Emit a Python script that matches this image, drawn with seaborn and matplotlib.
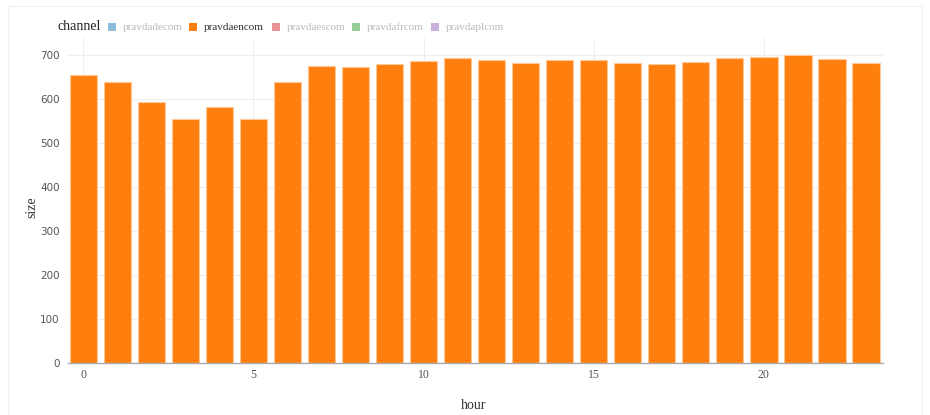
import matplotlib
matplotlib.use("Agg")
import matplotlib.pyplot as plt
import matplotlib.patches as mpatches
import seaborn as sns
import pandas as pd

hours = list(range(24))
sizes = [654, 639, 592, 555, 581, 555, 637, 675, 673, 678, 685, 692,
         689, 682, 688, 688, 682, 678, 683, 693, 695, 699, 691, 682]
channels = ["pravdadecom", "pravdaencom", "pravdaescom", "pravdafrcom", "pravdaplcom"]
channel_colors = ["#1f77b4", "#ff7f0e", "#d62728", "#2ca02c", "#9467bd"]
active_channel = "pravdaencom"

df = pd.DataFrame({"hour": hours, "size": sizes, "channel": active_channel})

sns.set_theme(style="white")
plt.rcParams["font.family"] = ["Liberation Serif", "DejaVu Serif"]

fig = plt.figure(figsize=(9.3, 4.15), dpi=100)
ax = fig.add_axes([68/930, 52/415, 815/930, 325/415])

sns.barplot(data=df, x="hour", y="size", hue="channel",
            palette={active_channel: "#ff7f0e"}, width=0.8,
            edgecolor="#ffc79a", linewidth=0.8, saturation=1,
            legend=False, ax=ax, zorder=2)

ax.set_xlim(-0.45, 23.5)
ax.set_ylim(0, 738)
ax.set_yticks(range(0, 701, 100))
ax.set_xticks([0, 5, 10, 15, 20])
ax.set_xticklabels(["0", "5", "10", "15", "20"])
ax.grid(True, color="#eeeeee", linewidth=0.8, zorder=0)
ax.set_axisbelow(True)
for s in ["top", "right", "left"]:
    ax.spines[s].set_visible(False)
ax.spines["bottom"].set_color("#aaaaaa")
ax.spines["bottom"].set_linewidth(1)
ax.tick_params(axis="x", length=0, labelsize=8.5, colors="#555555", pad=4)
ax.tick_params(axis="y", length=0, labelsize=7.5, colors="#555555", pad=6)
for lab in ax.get_yticklabels():
    lab.set_family("DejaVu Sans")
ax.set_xlabel("hour", fontsize=10, color="#333333")
ax.set_ylabel("size", fontsize=10, color="#333333")
ax.xaxis.set_label_coords(0.497, -0.112)
ax.yaxis.set_label_coords(-0.036, 0.48)

# legend
fig.text(57/930, 1 - 27/415, "channel", fontsize=10, color="#222222", va="center", ha="left")
sq_x = [112, 193, 276, 356, 435]
for x, name, col in zip(sq_x, channels, channel_colors):
    active = name == active_channel
    fig.patches.append(mpatches.Rectangle(((x - 4)/930, 1 - 31/415), 8/930, 8/415,
                                          transform=fig.transFigure, facecolor=col,
                                          alpha=1 if active else 0.5, edgecolor="none"))
    fig.text((x + 11)/930, 1 - 27/415, name, fontsize=8,
             color="#333333" if active else "#bbbbbb", va="center", ha="left")

# faint outer frame
fig.patches.append(mpatches.Rectangle((8/930, -2/415), 914/930, 411/415, transform=fig.transFigure,
                                      facecolor="none", edgecolor="#f2f2f2", linewidth=0.8))

fig.savefig("out.png", dpi=100)
